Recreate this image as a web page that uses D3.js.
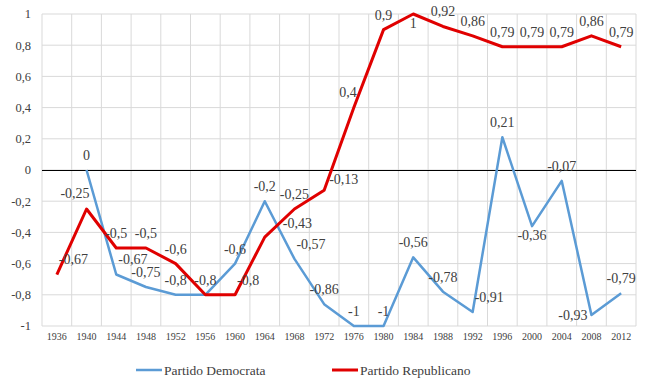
<!DOCTYPE html>
<html>
<head>
<meta charset="utf-8">
<script src="https://cdn.jsdelivr.net/npm/d3@7"></script>
<style>
  body { margin: 0; background: #fff; }
</style>
</head>
<body>
<div id="chart"></div>
<script>
const years = ["1936", "1940", "1944", "1948", "1952", "1956", "1960", "1964", "1968", "1972",
               "1976", "1980", "1984", "1988", "1992", "1996", "2000", "2004", "2008", "2012"];
const democrata = [null, 0, -0.67, -0.75, -0.8, -0.8, -0.6, -0.2, -0.57, -0.86,
                   -1, -1, -0.56, -0.78, -0.91, 0.21, -0.36, -0.07, -0.93, -0.79];
const republicano = [-0.67, -0.25, -0.5, -0.5, -0.6, -0.8, -0.8, -0.43, -0.25, -0.13,
                     0.4, 0.9, 1, 0.92, 0.86, 0.79, 0.79, 0.79, 0.86, 0.79];
const yTicks = [-1, -0.8, -0.6, -0.4, -0.2, 0, 0.2, 0.4, 0.6, 0.8, 1];
// where each data label sits relative to its point
const demLabelPos = [null, "t", "tr", "t", "t", "t", "t", "t", "tr", "t",
                     "t", "t", "t", "t", "tr", "t", "b", "t", "l", "t"];
const repLabelPos = ["tr", "tl", "t", "t", "t", null, "tr", "rr", "t", "r",
                     "tl", "t", "b", "t", "t", "t", "t", "t", "t", "t"];

const width = 650, height = 388;
const margin = { left: 42, right: 14, top: 14, bottom: 62 };
const serif = "Liberation Serif";

const svg = d3.select("#chart").append("svg")
    .attr("width", width)
    .attr("height", height);

const x = d3.scaleBand()
    .domain(years)
    .range([margin.left, width - margin.right])
    .padding(0);

const y = d3.scaleLinear()
    .domain([-1, 1])
    .range([height - margin.bottom, margin.top]);

const fmt = v => String(v).replace(".", ",");

// gridlines
svg.append("g")
    .selectAll("line")
    .data(yTicks)
    .enter()
    .append("line")
    .attr("x1", margin.left)
    .attr("x2", width - margin.right)
    .attr("y1", d => y(d))
    .attr("y2", d => y(d))
    .attr("stroke", "#d9d9d9")
    .attr("stroke-width", 1);

const bounds = years.map(d => x(d)).concat([x(years[years.length - 1]) + x.bandwidth()]);
svg.append("g")
    .selectAll("line")
    .data(bounds)
    .enter()
    .append("line")
    .attr("x1", d => d)
    .attr("x2", d => d)
    .attr("y1", y(1))
    .attr("y2", y(-1))
    .attr("stroke", "#d9d9d9")
    .attr("stroke-width", 1);

// zero line
svg.append("line")
    .attr("x1", margin.left)
    .attr("x2", width - margin.right)
    .attr("y1", Math.round(y(0)) + 0.5)
    .attr("y2", Math.round(y(0)) + 0.5)
    .attr("stroke", "#000")
    .attr("stroke-width", 1);

// y tick labels
svg.append("g")
    .selectAll("text")
    .data(yTicks)
    .enter()
    .append("text")
    .attr("x", 31)
    .attr("y", d => y(d))
    .attr("dy", "0.35em")
    .attr("text-anchor", "end")
    .attr("fill", "#404040")
    .attr("font-family", serif)
    .attr("font-size", 12.5)
    .text(d => fmt(d));

// x tick labels
svg.append("g")
    .selectAll("text")
    .data(years)
    .enter()
    .append("text")
    .attr("x", d => x(d) + x.bandwidth() / 2)
    .attr("y", y(-1) + 14)
    .attr("text-anchor", "middle")
    .attr("fill", "#404040")
    .attr("font-family", serif)
    .attr("font-size", 10)
    .text(d => d);

const cx = d => x(d) + x.bandwidth() / 2;

const series = [
    { name: "Partido Democrata", values: democrata, pos: demLabelPos, color: "#5b9bd5", width: 2.5 },
    { name: "Partido Republicano", values: republicano, pos: repLabelPos, color: "#e00000", width: 3 }
];

const line = d3.line()
    .defined(d => d.v !== null)
    .x(d => cx(d.year))
    .y(d => y(d.v));

series.forEach(s => {
    const pts = years.map((year, i) => ({ year, v: s.values[i], pos: s.pos[i] }));
    svg.append("path")
        .datum(pts)
        .attr("fill", "none")
        .attr("stroke", s.color)
        .attr("stroke-width", s.width)
        .attr("stroke-linejoin", "round")
        .attr("d", line);
    s.pts = pts;
});

const placements = {
    t:  { anchor: "middle", dx: 0, dy: -15 },
    b:  { anchor: "middle", dx: 0, dy: 9 },
    tr: { anchor: "start", dx: 2, dy: -15 },
    tl: { anchor: "end", dx: 3, dy: -16 },
    r:  { anchor: "start", dx: 5, dy: -11 },
    rr: { anchor: "start", dx: 18, dy: -14 },
    l:  { anchor: "end", dx: -4, dy: 0 }
};

series.forEach(s => {
    svg.append("g")
        .selectAll("text")
        .data(s.pts.filter(d => d.v !== null && d.pos))
        .enter()
        .append("text")
        .attr("x", d => cx(d.year) + placements[d.pos].dx)
        .attr("y", d => y(d.v) + placements[d.pos].dy)
        .attr("dy", "0.35em")
        .attr("text-anchor", d => placements[d.pos].anchor)
        .attr("fill", "#404040")
        .attr("font-family", serif)
        .attr("font-size", 14)
        .text(d => fmt(d.v));
});

// legend
const legend = svg.selectAll(".legend")
    .data(series)
    .enter()
    .append("g")
    .attr("class", "legend")
    .attr("transform", (d, i) => `translate(${136 + i * 196},370)`);

legend.append("line")
    .attr("x1", 0)
    .attr("x2", 26)
    .attr("stroke", d => d.color)
    .attr("stroke-width", d => d.width);

legend.append("text")
    .attr("x", 28)
    .attr("dy", "0.35em")
    .attr("fill", "#404040")
    .attr("font-family", serif)
    .attr("font-size", 13.5)
    .text(d => d.name);
</script>
</body>
</html>
